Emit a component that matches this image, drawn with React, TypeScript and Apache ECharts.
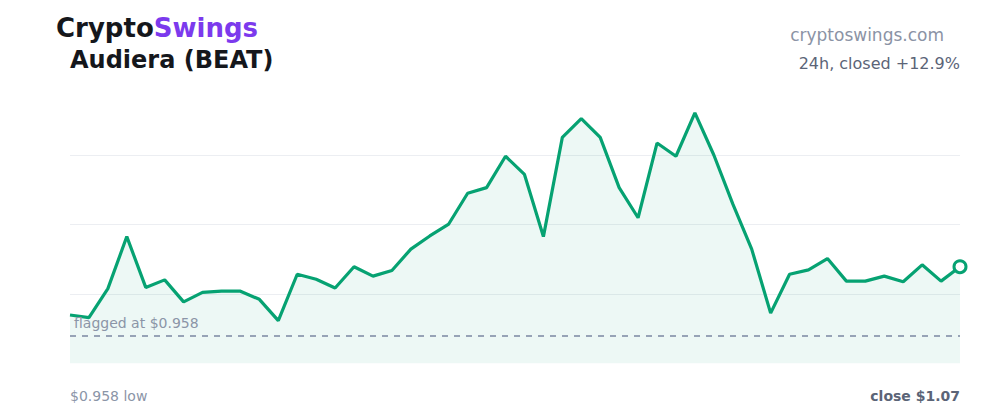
import React, { useEffect, useRef } from "react";
import * as echarts from "echarts";

// ---- data ----
const hours: string[] = Array.from({ length: 48 }, (_, i) => `t${i + 1}`);
const prices: number[] = [
  0.993, 0.989, 1.035, 1.118, 1.037, 1.049, 1.014, 1.029, 1.031, 1.031,
  1.018, 0.984, 1.058, 1.05, 1.036, 1.07, 1.055, 1.064, 1.098, 1.119,
  1.138, 1.187, 1.196, 1.246, 1.217, 1.118, 1.276, 1.306, 1.276, 1.196,
  1.148, 1.267, 1.246, 1.315, 1.248, 1.17, 1.098, 0.996, 1.058, 1.065,
  1.083, 1.047, 1.047, 1.055, 1.046, 1.073, 1.047, 1.07,
];
const flaggedPrice = 0.958;
const lowPrice = 0.958;
const closePrice = 1.07;
const changePct = 12.9;
const yMin = 0.9161;
const yMax = 1.3579;

const LINE = "#06a272";
const FONT = "DejaVu Sans";

export default function App() {
  const ref = useRef<HTMLDivElement>(null);
  useEffect(() => {
    if (!ref.current) return;
    const chart = echarts.init(ref.current, undefined, { renderer: "svg" });
    const last = prices.length - 1;
    chart.setOption({
      animation: false,
      backgroundColor: "#ffffff",
      textStyle: { fontFamily: FONT },
      grid: { left: 70, right: 40, top: 86, bottom: 56.7 },
      xAxis: {
        type: "category",
        data: hours,
        boundaryGap: false,
        axisLine: { show: false },
        axisTick: { show: false },
        axisLabel: { show: false },
        splitLine: { show: false },
      },
      yAxis: [
        {
          type: "value",
          min: yMin,
          max: yMax,
          axisLine: { show: false },
          axisTick: { show: false },
          axisLabel: { show: false },
          splitLine: { show: false },
        },
        {
          type: "value",
          min: 0,
          max: 4,
          interval: 1,
          axisLine: { show: false },
          axisTick: { show: false },
          axisLabel: { show: false },
          splitLine: {
            show: true,
            showMinLine: false,
            showMaxLine: false,
            lineStyle: { color: "#eceef2", width: 1 },
          },
        },
      ],
      series: [
        {
          type: "line",
          data: prices,
          yAxisIndex: 0,
          showSymbol: false,
          symbol: "none",
          lineStyle: { color: LINE, width: 3.2 },
          areaStyle: { color: "rgba(6,162,114,0.10)", origin: "start" },
          z: 2,
          markLine: {
            silent: true,
            symbol: ["none", "none"],
            lineStyle: { color: "#97a3b6", width: 2, type: [6, 6] },
            label: {
              show: true,
              position: "insideStartTop",
              distance: [4, 6],
              formatter: `flagged at $${flaggedPrice.toFixed(3)}`,
              color: "#8b95a7",
              fontSize: 14,
              fontFamily: FONT,
            },
            data: [{ yAxis: flaggedPrice }],
          },
        },
        {
          type: "scatter",
          data: [[hours[last], prices[last]]],
          yAxisIndex: 0,
          symbol: "circle",
          symbolSize: 12,
          itemStyle: { color: "#ffffff", borderColor: LINE, borderWidth: 3, opacity: 1 },
          z: 3,
        },
      ],
      graphic: [
        {
          type: "text",
          left: 56,
          top: 15,
          style: {
            text: "{a|Crypto}{b|Swings}",
            rich: {
              a: { fontFamily: FONT, fontWeight: "bold", fontSize: 26, fill: "#15171c" },
              b: { fontFamily: FONT, fontWeight: "bold", fontSize: 26, fill: "#7c3aed" },
            },
          },
        },
        {
          type: "text",
          x: 70,
          y: 60,
          style: {
            text: "Audiera (BEAT)",
            fontFamily: FONT,
            fontWeight: "bold",
            fontSize: 24,
            fill: "#15171c",
            verticalAlign: "middle",
          },
        },
        {
          type: "text",
          x: 944,
          y: 35,
          style: {
            text: "cryptoswings.com",
            fontFamily: FONT,
            fontSize: 17,
            fill: "#8b93a5",
            align: "right",
            verticalAlign: "middle",
          },
        },
        {
          type: "text",
          x: 960,
          y: 63,
          style: {
            text: `24h, closed +${changePct.toFixed(1)}%`,
            fontFamily: FONT,
            fontSize: 16,
            fill: "#5b6477",
            align: "right",
            verticalAlign: "middle",
          },
        },
        {
          type: "text",
          x: 70,
          y: 396,
          style: {
            text: `$${lowPrice.toFixed(3)} low`,
            fontFamily: FONT,
            fontSize: 14,
            fill: "#8b95a7",
            verticalAlign: "middle",
          },
        },
        {
          type: "text",
          x: 960,
          y: 396,
          style: {
            text: `close $${closePrice.toFixed(2)}`,
            fontFamily: FONT,
            fontSize: 14,
            fontWeight: "bold",
            fill: "#5b6477",
            align: "right",
            verticalAlign: "middle",
          },
        },
      ],
    });
    return () => chart.dispose();
  }, []);
  return (
    <div
      ref={ref}
      style={{ position: "fixed", left: 0, top: 0, width: 1000, height: 420 }}
    />
  );
}
